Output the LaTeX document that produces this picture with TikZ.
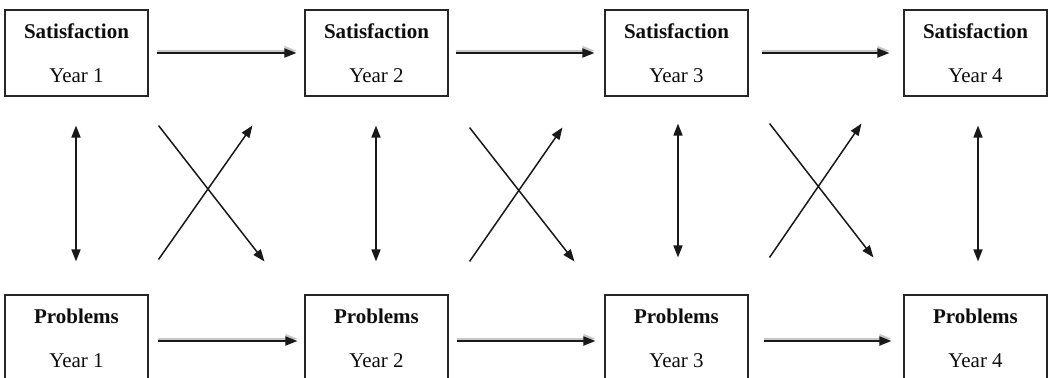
\documentclass[tikz,border=0pt]{standalone}
\usepackage{fontspec}
\setmainfont{Liberation Serif}
\usetikzlibrary{arrows.meta}
\tikzset{
  box/.style={draw=black!85, line width=1.1pt, minimum width=143pt, minimum height=86pt,
    inner sep=0pt, align=center, font=\fontsize{21}{44}\selectfont, text=black!95},
  tip/.style={-{Triangle[length=12pt,width=9pt]}},
  hline/.style={tip, line width=1.8pt, black!90},
  hshadow/.style={tip, line width=2pt, black!22},
  vline/.style={{Triangle[length=12pt,width=9pt]}-{Triangle[length=12pt,width=9pt]}, line width=1.6pt, black!90},
  xline/.style={tip, line width=1.5pt, black!90},
}
\begin{document}
\begin{tikzpicture}[x=1pt,y=-1pt]
\useasboundingbox (0,0) rectangle (1048,377);
\clip (0,0) rectangle (1048,377);
% top row
\node[box] (s1) at (76.5,53) {\textbf{Satisfaction}\\Year 1};
\node[box] (s2) at (376.5,53) {\textbf{Satisfaction}\\Year 2};
\node[box] (s3) at (676.5,53) {\textbf{Satisfaction}\\Year 3};
\node[box] (s4) at (975.5,53) {\textbf{Satisfaction}\\Year 4};
% bottom row
\node[box] (p1) at (76.5,338) {\textbf{Problems}\\Year 1};
\node[box] (p2) at (376.5,338) {\textbf{Problems}\\Year 2};
\node[box] (p3) at (676.5,338) {\textbf{Problems}\\Year 3};
\node[box] (p4) at (975.5,338) {\textbf{Problems}\\Year 4};
% horizontal arrows (with shadow)
\foreach \a/\b/\sa/\sb/\dy in {s1/s2/8/8/0, s2/s3/7/10/0, s3/s4/13/14/0, p1/p2/9/7/-3, p2/p3/8/9/-3, p3/p4/15/12/-3}{
  \draw[hshadow, shorten <=\sa pt, shorten >=\sb pt] ([yshift=\dy pt+2.4pt]\a.east) -- ([yshift=\dy pt+2.4pt]\b.west);
  \draw[hline, shorten <=\sa pt, shorten >=\sb pt] ([yshift=\dy pt]\a.east) -- ([yshift=\dy pt]\b.west);
}
% vertical double arrows
\draw[vline, shorten <=29pt, shorten >=33pt] ([xshift=-0.5pt]s1.south) -- ([xshift=-0.5pt]p1.north);
\draw[vline, shorten <=29pt, shorten >=33pt] ([xshift=-0.5pt]s2.south) -- ([xshift=-0.5pt]p2.north);
\draw[vline, shorten <=27pt, shorten >=37pt] ([xshift=1.5pt]s3.south) -- ([xshift=1.5pt]p3.north);
\draw[vline, shorten <=29pt, shorten >=33pt] ([xshift=2.5pt]s4.south) -- ([xshift=2.5pt]p4.north);
% crossing arrows
\draw[xline] ([shift={(10,29)}]s1.south east) -- ([shift={(-40,-33)}]p2.north west);
\draw[xline] ([shift={(10,-35)}]p1.north east) -- ([shift={(-52,29)}]s2.south west);
\draw[xline] ([shift={(21,31)}]s2.south east) -- ([shift={(-30,-33)}]p3.north west);
\draw[xline] ([shift={(21,-33)}]p2.north east) -- ([shift={(-42,31)}]s3.south west);
\draw[xline] ([shift={(21,27)}]s3.south east) -- ([shift={(-30,-37)}]p4.north west);
\draw[xline] ([shift={(21,-37)}]p3.north east) -- ([shift={(-42,27)}]s4.south west);
\end{tikzpicture}
\end{document}
